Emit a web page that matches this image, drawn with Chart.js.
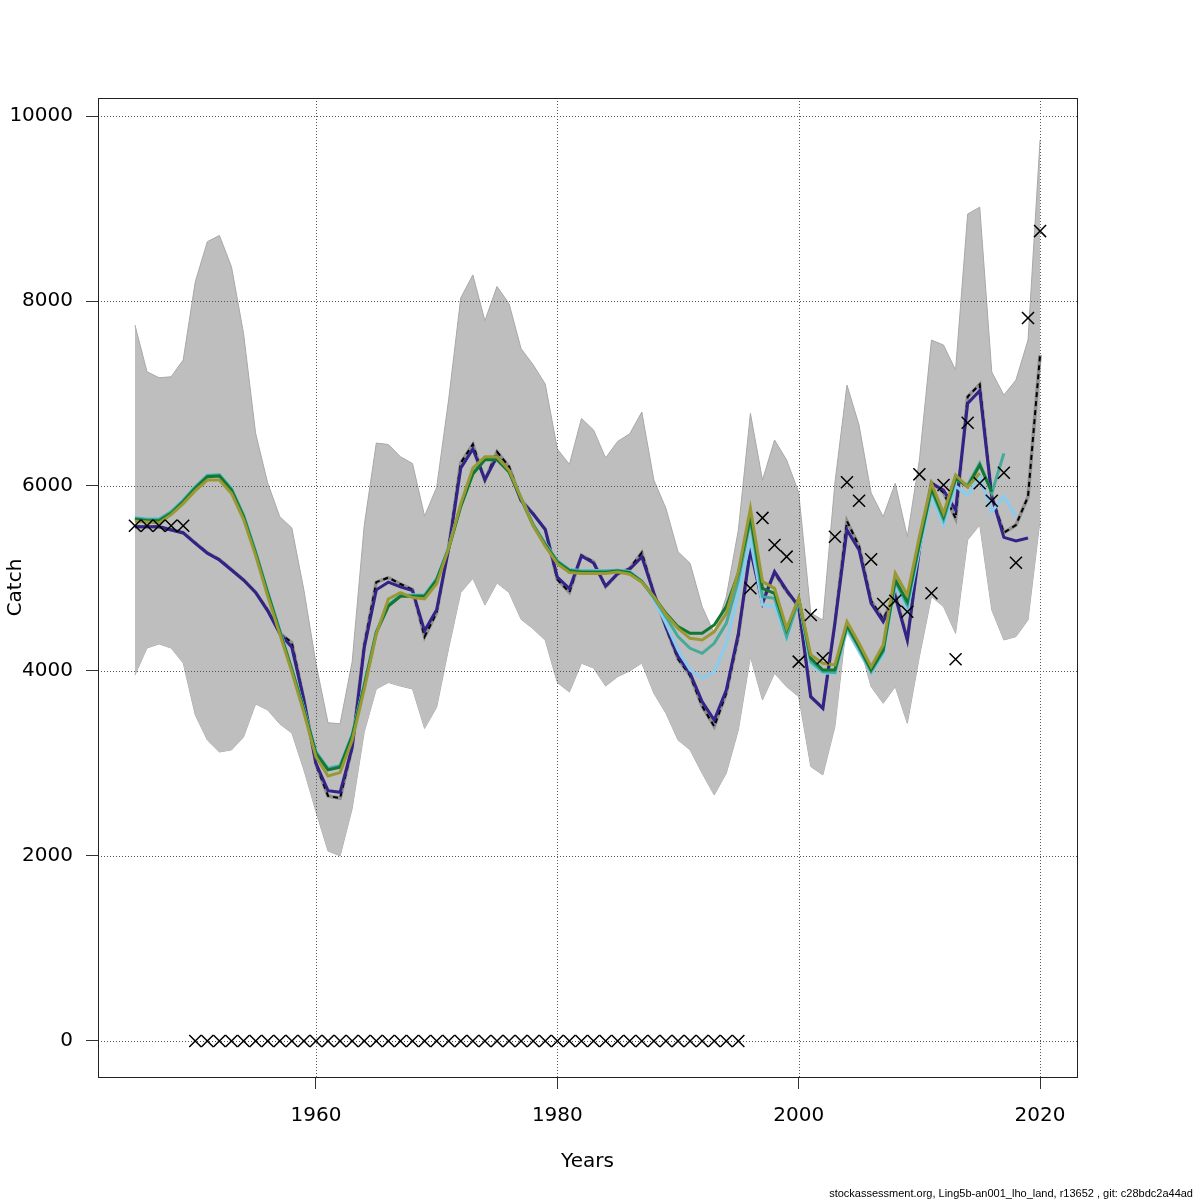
<!doctype html>
<html>
  <head>
    <title>Catch</title>
    <script src="https://cdn.jsdelivr.net/npm/chart.js@4.4.1/dist/chart.umd.min.js"></script>
    <style>
      body { margin: 0; background: #fff; }
      #wrap { position: relative; width: 1200px; height: 1200px; }
      #footer {
        position: absolute; right: 7px; top: 1187px;
        font: 11px "Liberation Sans", sans-serif; color: #000; white-space: pre;
      }
    </style>
  </head>
  <body>
    <div id="wrap">
      <canvas id="catchChart" width="1200" height="1200"></canvas>
      <div id="footer">stockassessment.org, Ling5b-an001_lho_land, r13652 , git: c28bdc2a44ad</div>
    </div>
    <script>
      var years = [1945, 1946, 1947, 1948, 1949, 1950, 1951, 1952, 1953, 1954,
        1955, 1956, 1957, 1958, 1959, 1960, 1961, 1962, 1963, 1964,
        1965, 1966, 1967, 1968, 1969, 1970, 1971, 1972, 1973, 1974,
        1975, 1976, 1977, 1978, 1979, 1980, 1981, 1982, 1983, 1984,
        1985, 1986, 1987, 1988, 1989, 1990, 1991, 1992, 1993, 1994,
        1995, 1996, 1997, 1998, 1999, 2000, 2001, 2002, 2003, 2004,
        2005, 2006, 2007, 2008, 2009, 2010, 2011, 2012, 2013, 2014,
        2015, 2016, 2017, 2018, 2019, 2020];

      var xTicks = [1960, 1980, 2000, 2020];
      var yTicks = [0, 2000, 4000, 6000, 8000, 10000];

      // confidence band
      var bandUpper = [7740, 7236, 7170, 7181, 7362, 8208, 8641, 8709, 8370, 7650,
        6569, 6032, 5668, 5546, 4875, 4080, 3440, 3430, 4100, 5573,
        6464, 6449, 6316, 6243, 5675, 5985, 6940, 8034, 8282, 7786,
        8157, 7971, 7484, 7310, 7102, 6400, 6234, 6730, 6606, 6304,
        6482, 6565, 6800, 6064, 5758, 5290, 5164, 4695, 4407, 4803,
        5524, 6785, 6064, 6497, 6281, 5930, 4627, 4551, 6032, 7091,
        6659, 5924, 5668, 6029, 5452, 6281, 7578, 7524, 7254, 8940,
        9015, 7232, 6983, 7145, 7578, 9740];
      var bandLower = [3956, 4248, 4292, 4248, 4086, 3524, 3254, 3124, 3146, 3286,
        3643, 3578, 3427, 3329, 2930, 2480, 2054, 2000, 2511, 3340,
        3805, 3875, 3837, 3805, 3379, 3607, 4248, 4848, 5001, 4713,
        4951, 4848, 4558, 4455, 4331, 3875, 3772, 4083, 4032, 3837,
        3938, 4000, 4085, 3758, 3542, 3254, 3146, 2894, 2659, 2894,
        3362, 4155, 3686, 3975, 3830, 3722, 2966, 2876, 3398, 4551,
        4299, 3830, 3650, 3830, 3434, 4155, 4803, 4695, 4407, 5416,
        5578, 4659, 4335, 4371, 4551, 5632];

      // base run (to 2020)
      var base = [5560, 5560, 5560, 5530, 5495, 5385, 5278, 5205, 5095, 4985,
        4850, 4660, 4410, 4306, 3690, 2990, 2649, 2624, 3173, 4280,
        4960, 5010, 4940, 4880, 4370, 4630, 5340, 6250, 6450, 6060,
        6370, 6210, 5850, 5700, 5530, 4990, 4850, 5250, 5180, 4910,
        5050, 5110, 5280, 4840, 4470, 4130, 3950, 3620, 3400, 3760,
        4370, 5340, 4760, 5060, 4860, 4700, 3720, 3600, 4520, 5620,
        5350, 4760, 4560, 4830, 4340, 5320, 6040, 5930, 5650, 6965,
        7099, 5884, 5495, 5578, 5884, 7416];

      // retrospective peels
      var retro1 = [5560, 5560, 5560, 5524, 5492, 5380, 5273, 5200, 5092, 4983,
        4850, 4650, 4407, 4256, 3686, 3002, 2706, 2688, 3173, 4248,
        4877, 4960, 4910, 4869, 4434, 4662, 5324, 6193, 6400, 6069,
        6316, 6172, 5841, 5697, 5530, 5014, 4890, 5243, 5167, 4919,
        5053, 5100, 5234, 4840, 4479, 4155, 3975, 3668, 3470, 3794,
        4407, 5308, 4731, 5074, 4875, 4695, 3722, 3596, 4515, 5524,
        5308, 4731, 4533, 4803, 4335, 5308, 6029, 5956, 5740, 6893,
        7030, 5884, 5445, 5405, 5438];
      var retro2 = [5660, 5645, 5645, 5725, 5850, 5995, 6120, 6125, 5975, 5690,
        5295, 4860, 4445, 4030, 3595, 3130, 2950, 2980, 3315, 3855,
        4430, 4720, 4825, 4825, 4825, 5000, 5340, 5795, 6145, 6300,
        6300, 6165, 5875, 5590, 5380, 5195, 5100, 5085, 5085, 5085,
        5095, 5075, 4975, 4767, 4515, 4227, 4011, 3921, 3992, 4299,
        4840, 5416, 4713, 4695, 4353, 4767, 4065, 3981, 3970, 4443,
        4209, 3981, 4173, 4929, 4659, 5308, 5884, 5578, 6000, 5900,
        6100, 5722, 5892, 5668];
      var retro3 = [5655, 5640, 5640, 5720, 5845, 5990, 6115, 6120, 5970, 5685,
        5290, 4855, 4440, 4025, 3590, 3125, 2945, 2975, 3310, 3850,
        4425, 4715, 4820, 4820, 4820, 4995, 5335, 5790, 6140, 6295,
        6295, 6160, 5870, 5585, 5375, 5190, 5095, 5080, 5080, 5080,
        5090, 5070, 4970, 4790, 4587, 4371, 4245, 4191, 4299, 4515,
        4983, 5632, 4803, 4786, 4371, 4767, 4101, 3992, 3984, 4479,
        4245, 3992, 4209, 4966, 4713, 5362, 5956, 5632, 6065, 6011,
        6245, 5921, 6353];
      var retro4 = [5640, 5625, 5625, 5704, 5830, 5975, 6100, 6108, 5956, 5668,
        5272, 4840, 4425, 4011, 3578, 3110, 2930, 2959, 3297, 3834,
        4414, 4702, 4807, 4807, 4807, 4983, 5324, 5779, 6130, 6284,
        6284, 6151, 5861, 5573, 5365, 5178, 5084, 5068, 5068, 5068,
        5080, 5063, 4966, 4803, 4623, 4479, 4407, 4407, 4497, 4695,
        5056, 5668, 4893, 4840, 4443, 4786, 4137, 4011, 4011, 4497,
        4263, 4011, 4227, 4983, 4749, 5380, 5975, 5668, 6083, 5992,
        6227, 5938];
      var retro5 = [5620, 5610, 5600, 5690, 5810, 5950, 6064, 6064, 5920, 5640,
        5250, 4810, 4400, 3990, 3550, 3070, 2865, 2901, 3250, 3800,
        4400, 4778, 4848, 4794, 4778, 4943, 5330, 5810, 6194, 6316,
        6316, 6170, 5870, 5570, 5350, 5160, 5065, 5055, 5055, 5055,
        5070, 5046, 4960, 4803, 4610, 4461, 4353, 4335, 4425, 4623,
        5074, 5758, 4966, 4893, 4461, 4786, 4173, 4083, 4065, 4533,
        4299, 4047, 4281, 5056, 4821, 5452, 6029, 5704, 6119, 5992,
        6137];

      // observed catch
      var observed = [5570, 5570, 5570, 5570, 5570, 0, 0, 0, 0, 0,
        0, 0, 0, 0, 0, 0, 0, 0, 0, 0,
        0, 0, 0, 0, 0, 0, 0, 0, 0, 0,
        0, 0, 0, 0, 0, 0, 0, 0, 0, 0,
        0, 0, 0, 0, 0, 0, 0, 0, 0, 0,
        0, 4895, 5655, 5362, 5236, 4101, 4605, 4137, 5452, 6040,
        5841, 5207, 4724, 4760, 4641, 6126, 4840, 6011, 4126, 6684,
        6029, 5841, 6144, 5171, 7816, 8756];

      function pts(arr) {
        return arr.map(function (v, i) { return { x: years[i], y: v }; });
      }

      function line(arr, color, width, order) {
        return {
          data: pts(arr),
          borderColor: color,
          borderWidth: width,
          pointRadius: 0,
          fill: false,
          tension: 0,
          order: order,
        };
      }

      var gridFont = { family: "DejaVu Sans", size: 20 };

      // dotted grid drawn right after the band so it shows through the grey
      var gridOverBand = {
        id: "gridOverBand",
        afterDatasetDraw: function (chart, args) {
          if (args.index !== 1) return;
          var ctx = chart.ctx, a = chart.chartArea;
          var xs = chart.scales.x, ys = chart.scales.y;
          ctx.save();
          ctx.strokeStyle = "#555";
          ctx.lineWidth = 1;
          ctx.setLineDash([1, 2]);
          xTicks.forEach(function (t) {
            var px = Math.round(xs.getPixelForValue(t)) + 0.5;
            ctx.beginPath(); ctx.moveTo(px, a.top); ctx.lineTo(px, a.bottom); ctx.stroke();
          });
          yTicks.forEach(function (t) {
            var py = Math.round(ys.getPixelForValue(t)) + 0.5;
            ctx.beginPath(); ctx.moveTo(a.left, py); ctx.lineTo(a.right, py); ctx.stroke();
          });
          ctx.restore();
        },
        afterDraw: function (chart) {
          var ctx = chart.ctx, a = chart.chartArea;
          ctx.save();
          ctx.strokeStyle = "#222";
          ctx.lineWidth = 1;
          ctx.strokeRect(a.left + 0.5, a.top + 0.5, a.right - a.left, a.bottom - a.top);
          ctx.restore();
        },
      };

      var ctx = document.getElementById("catchChart").getContext("2d");
      var catchChart = new Chart(ctx, {
        type: "line",
        data: {
          datasets: [
            {
              data: pts(bandLower),
              borderColor: "#a8a8a8",
              borderWidth: 1,
              pointRadius: 0,
              fill: false,
              order: 12,
            },
            {
              data: pts(bandUpper),
              borderColor: "#a8a8a8",
              borderWidth: 1,
              backgroundColor: "#bebebe",
              pointRadius: 0,
              fill: "-1",
              order: 11,
            },
            line(base, "#8f8f8f", 3.5, 10),
            Object.assign(line(base, "#000000", 2, 9), { borderDash: [5, 4] }),
            line(retro1, "#332288", 3, 8),
            line(retro2, "#88CCEE", 3, 7),
            line(retro3, "#44AA99", 3, 6),
            line(retro4, "#117733", 3, 5),
            line(retro5, "#999933", 3, 4),
            {
              data: pts(observed),
              showLine: false,
              pointStyle: "crossRot",
              pointRadius: 8.5,
              pointBorderWidth: 1.5,
              pointBorderColor: "#000",
              borderColor: "#000",
              order: 0,
            },
          ],
        },
        options: {
          responsive: false,
          animation: false,
          devicePixelRatio: 1,
          layout: { padding: { top: 98, right: 123, left: 0, bottom: 0 } },
          plugins: { legend: { display: false }, tooltip: { enabled: false } },
          scales: {
            x: {
              type: "linear",
              min: 1941.94,
              max: 2023.06,
              afterBuildTicks: function (s) {
                s.ticks = xTicks.map(function (v) { return { value: v }; });
              },
              afterFit: function (s) { s.height = 123; },
              grid: { drawOnChartArea: false, tickLength: 12, tickColor: "#333" },
              border: { display: false },
              ticks: {
                font: gridFont, color: "#000", padding: 15, maxRotation: 0,
                callback: function (v) { return String(v); },
              },
              title: {
                display: true, text: "Years", color: "#000",
                font: gridFont, padding: { top: 0, bottom: 26 },
              },
            },
            y: {
              type: "linear",
              min: -390,
              max: 10195,
              afterBuildTicks: function (s) {
                s.ticks = yTicks.map(function (v) { return { value: v }; });
              },
              afterFit: function (s) { s.width = 98; },
              grid: { drawOnChartArea: false, tickLength: 12, tickColor: "#333" },
              border: { display: false },
              ticks: {
                font: gridFont, color: "#000", padding: 13,
                callback: function (v) { return String(v); },
              },
              title: {
                display: true, text: "Catch", color: "#000",
                font: gridFont, padding: { top: 4, bottom: 0 },
              },
            },
          },
        },
        plugins: [gridOverBand],
      });
    </script>
  </body>
</html>
